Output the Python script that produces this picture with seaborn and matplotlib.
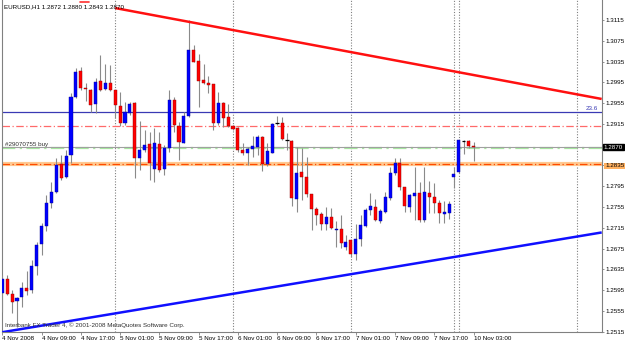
import matplotlib
matplotlib.use("Agg")
import matplotlib.pyplot as plt
import seaborn as sns
import numpy as np
import pandas as pd

# ---------------- data (EURUSD H1) ----------------
opens = [1.2590, 1.2616, 1.2588, 1.2574, 1.2582, 1.2599, 1.2595, 1.2641, 1.2684, 1.2718,
         1.2763, 1.2784, 1.2838, 1.2813, 1.2855, 1.2967, 1.3017, 1.2984, 1.2980, 1.2953,
         1.2998, 1.2982, 1.2994, 1.2980, 1.2949, 1.2917, 1.2936, 1.2955, 1.2849, 1.2865,
         1.2876, 1.2828, 1.2876, 1.2828, 1.2869, 1.2961, 1.2911, 1.2878, 1.2930, 1.3057,
         1.3036, 1.3000, 1.2994, 1.2992, 1.2917, 1.2955, 1.2928, 1.2911, 1.2907, 1.2865,
         1.2859, 1.2867, 1.2871, 1.2890, 1.2838, 1.2859, 1.2917, 1.2917, 1.2884, 1.2882,
         1.2770, 1.2822, 1.2813, 1.2780, 1.2751, 1.2742, 1.2722, 1.2736, 1.2711, 1.2713,
         1.2678, 1.2692, 1.2665, 1.2693, 1.2718, 1.2749, 1.2755, 1.2728, 1.2745, 1.2772,
         1.2821, 1.2840, 1.2794, 1.2755, 1.2776, 1.2782, 1.2730, 1.2782, 1.2774, 1.2763,
         1.2742, 1.2744, 1.2813, 1.2822, 1.2882, 1.2882, 1.2872]
highs = [1.2624, 1.2624, 1.2595, 1.2582, 1.2611, 1.2632, 1.2653, 1.2688, 1.2724, 1.2778,
         1.2803, 1.2849, 1.2855, 1.2865, 1.2974, 1.3023, 1.3025, 1.2994, 1.2982, 1.3003,
         1.3048, 1.3030, 1.3028, 1.2981, 1.2976, 1.2957, 1.2957, 1.2957, 1.2921, 1.2903,
         1.2899, 1.2907, 1.2899, 1.2874, 1.2980, 1.2967, 1.2919, 1.2938, 1.3115, 1.3067,
         1.3049, 1.3030, 1.3007, 1.2992, 1.2976, 1.2957, 1.2953, 1.2913, 1.2909, 1.2878,
         1.2870, 1.2892, 1.2894, 1.2892, 1.2878, 1.2917, 1.2930, 1.2928, 1.2897, 1.2884,
         1.2870, 1.2869, 1.2851, 1.2780, 1.2755, 1.2745, 1.2755, 1.2753, 1.2728, 1.2740,
         1.2701, 1.2692, 1.2722, 1.2740, 1.2753, 1.2782, 1.2770, 1.2751, 1.2784, 1.2832,
         1.2849, 1.2849, 1.2794, 1.2780, 1.2832, 1.2803, 1.2832, 1.2805, 1.2801, 1.2769,
         1.2767, 1.2767, 1.2832, 1.2884, 1.2884, 1.2884, 1.2880]
lows = [1.2553, 1.2586, 1.2551, 1.2524, 1.2563, 1.2586, 1.2590, 1.2624, 1.2663, 1.2709,
        1.2753, 1.2782, 1.2807, 1.2811, 1.2840, 1.2965, 1.2980, 1.2959, 1.2938, 1.2936,
        1.2978, 1.2980, 1.2978, 1.2926, 1.2911, 1.2913, 1.2932, 1.2811, 1.2826, 1.2861,
        1.2807, 1.2803, 1.2822, 1.2817, 1.2861, 1.2899, 1.2846, 1.2878, 1.2928, 1.3034,
        1.2948, 1.2992, 1.2975, 1.2903, 1.2913, 1.2909, 1.2909, 1.2903, 1.2861, 1.2855,
        1.2836, 1.2851, 1.2855, 1.2824, 1.2834, 1.2859, 1.2913, 1.2884, 1.2865, 1.2757,
        1.2745, 1.2768, 1.2774, 1.2711, 1.2720, 1.2711, 1.2711, 1.2713, 1.2678, 1.2676,
        1.2672, 1.2659, 1.2653, 1.2680, 1.2716, 1.2740, 1.2728, 1.2724, 1.2743, 1.2768,
        1.2817, 1.2788, 1.2745, 1.2745, 1.2730, 1.2726, 1.2726, 1.2744, 1.2744, 1.2724,
        1.2724, 1.2732, 1.2792, 1.2821, 1.2857, 1.2869, 1.2843]
closes = [1.2616, 1.2588, 1.2572, 1.2580, 1.2599, 1.2593, 1.2641, 1.2682, 1.2718, 1.2763,
          1.2784, 1.2836, 1.2811, 1.2853, 1.2967, 1.3015, 1.2984, 1.2982, 1.2951, 1.2996,
          1.2980, 1.2994, 1.2980, 1.2951, 1.2917, 1.2938, 1.2953, 1.2849, 1.2865, 1.2874,
          1.2840, 1.2878, 1.2826, 1.2869, 1.2961, 1.2913, 1.2880, 1.2930, 1.3057, 1.3034,
          1.2998, 1.2994, 1.2990, 1.2917, 1.2955, 1.2926, 1.2911, 1.2905, 1.2865, 1.2859,
          1.2867, 1.2872, 1.2890, 1.2838, 1.2863, 1.2915, 1.2917, 1.2886, 1.2884, 1.2772,
          1.2821, 1.2813, 1.2780, 1.2751, 1.2740, 1.2722, 1.2736, 1.2715, 1.2713, 1.2686,
          1.2688, 1.2665, 1.2694, 1.2720, 1.2749, 1.2757, 1.2730, 1.2747, 1.2774, 1.2821,
          1.2840, 1.2794, 1.2757, 1.2778, 1.2782, 1.2730, 1.2784, 1.2774, 1.2763, 1.2744,
          1.2745, 1.2761, 1.2819, 1.2884, 1.2882, 1.2872, 1.2870]

time_tick_bars = [0, 8, 16, 24, 32, 40, 48, 56, 64, 72, 80, 88, 96]
time_tick_labels = ["4 Nov 2008", "4 Nov 09:00", "4 Nov 17:00", "5 Nov 01:00", "5 Nov 09:00",
                    "5 Nov 17:00", "6 Nov 01:00", "6 Nov 09:00", "6 Nov 17:00", "7 Nov 01:00",
                    "7 Nov 09:00", "7 Nov 17:00", "10 Nov 03:00"]
day_separators = [23, 47, 71, 92, 93, 117]
price_ticks = [1.3115, 1.3075, 1.3035, 1.2995, 1.2955, 1.2915, 1.2835, 1.2795, 1.2755,
               1.2715, 1.2675, 1.2635, 1.2595, 1.2555, 1.2515]
red_trend = [(23, 1.3138), (117, 1.2972)]
blue_trend = [(0, 1.2514), (117, 1.2698)]
fibo_level = 1.2938
fibo_label = "23.6"
red_hline = 1.2911
bid_price = 1.2870
order_price = 1.2868
order_label = "#29070755 buy"
orange_hline = 1.2838
orange_label = "1.2835"
header = "EURUSD,H1 1.2872 1.2880 1.2843 1.2870"
copyright_txt = "Interbank FX Trader 4, \u00a9 2001-2008 MetaQuotes Software Corp."

df = pd.DataFrame({"bar": np.arange(len(opens)), "open": opens, "high": highs,
                   "low": lows, "close": closes})

# ---------------- styling ----------------
sns.set_theme(style="white")
plt.rcParams['font.family'] = ['Liberation Sans', 'DejaVu Sans']
FS = 4.5

fig = plt.figure(figsize=(6.25, 3.45), dpi=100)
ax = fig.add_axes([1.7 / 625, (345 - 332.3) / 345, 600 / 625, 332.3 / 345])
ax.set_xlim(-0.12, 122.1)
ax.set_ylim(1.25138, 1.31535)

# day separators
for s in day_separators:
    ax.axvline(s, color="#808080", lw=0.8, ls=(0, (1, 1.5)), zorder=1)

# horizontal objects
ax.axhline(fibo_level, color="#3a3ab4", lw=0.9, zorder=2)
ax.axhline(red_hline, color="#ff6a6a", lw=0.9, ls=(0, (6, 2, 1, 2)), zorder=2)
ax.axhline(order_price, color="#a8e8a0", lw=1.6, ls=(0, (6, 2, 1, 2)), zorder=2)
ax.axhline(bid_price, color="#a0a0a0", lw=0.8, zorder=2)
ax.axhline(orange_hline, color="#ffc890", lw=3.0, zorder=2)
ax.axhline(orange_hline, color="#ff4a00", lw=0.9, ls=(0, (6, 2, 1, 2)), zorder=2)

# candles
up = df[df.close > df.open]
dn = df[df.close < df.open]
dj = df[df.close == df.open]
ax.vlines(df.bar, df.low, df.high, color="#8a8a8a", lw=0.8, zorder=3)
ax.bar(up.bar, up.close - up.open, bottom=up.open, width=0.62, color="#0000ff",
       edgecolor="#000090", linewidth=0.3, zorder=4)
ax.bar(dn.bar, dn.open - dn.close, bottom=dn.close, width=0.62, color="#ff0000",
       edgecolor="#900000", linewidth=0.3, zorder=4)
ax.hlines(dj.open, dj.bar - 0.35, dj.bar + 0.35, color="#000000", lw=0.9, zorder=4)

# trend lines (rays)
def ray(pts, color):
    (x0, y0), (x1, y1) = pts
    slope = (y1 - y0) / (x1 - x0)
    xe = ax.get_xlim()[1]
    ax.plot([x0, xe], [y0, y0 + slope * (xe - x0)], color=color, lw=1.8,
            solid_capstyle="butt", zorder=5, clip_on=True)

ray(red_trend, "#ff1010")
ray(blue_trend, "#1010ff")

# small red shift marker at the top edge
ax.plot([0.13, 0.145], [0.995, 0.995], transform=ax.transAxes, color="#ff3030",
        lw=1.2, zorder=6, clip_on=False)

# texts inside chart
ax.text(0.004, 0.987, header, transform=ax.transAxes, fontsize=FS, color="#000000",
        ha="left", va="top", zorder=6)
ax.text(0.005, 0.012, copyright_txt, transform=ax.transAxes, fontsize=FS, color="#303030",
        ha="left", va="bottom", zorder=6)
ax.text(0.5, order_price + 0.0003, order_label, fontsize=FS, color="#303030",
        ha="left", va="bottom", zorder=6)
ax.text(0.993, fibo_level + 0.00025, fibo_label, transform=ax.get_yaxis_transform(),
        fontsize=FS, color="#3a3ab4", ha="right", va="bottom", zorder=6)

# axes
ax.spines["top"].set_visible(False)
for side in ["left", "right", "bottom"]:
    ax.spines[side].set_color("#808080")
    ax.spines[side].set_linewidth(0.8)
ax.yaxis.tick_right()
ax.set_yticks(price_ticks)
ax.set_yticklabels([f"{p:.4f}" for p in price_ticks])
ax.set_xticks(time_tick_bars)
ax.set_xticklabels(time_tick_labels)
ax.tick_params(axis="y", right=True, left=False, length=1.6, width=0.6, color="#808080",
               labelsize=FS, pad=0.8, labelcolor="#000000")
ax.tick_params(axis="x", bottom=True, length=2.0, width=0.6, color="#808080",
               labelsize=FS, pad=0.5, labelcolor="#000000")
for lbl in ax.get_xticklabels():
    lbl.set_horizontalalignment("left")
for lbl in ax.get_yticklabels():
    if lbl.get_text() == orange_label:
        lbl.set_bbox(dict(facecolor="#ffb060", edgecolor="none", pad=0.4))
ax.set_xlabel("")
ax.set_ylabel("")

# current price box on the price axis
ax.annotate(f"{bid_price:.4f}", xy=(1.0, bid_price), xycoords=("axes fraction", "data"),
            xytext=(1.6, 0), textcoords="offset points", fontsize=FS, color="white",
            ha="left", va="center", annotation_clip=False,
            bbox=dict(facecolor="black", edgecolor="black", pad=0.4))

fig.savefig("out.png", dpi=100)
